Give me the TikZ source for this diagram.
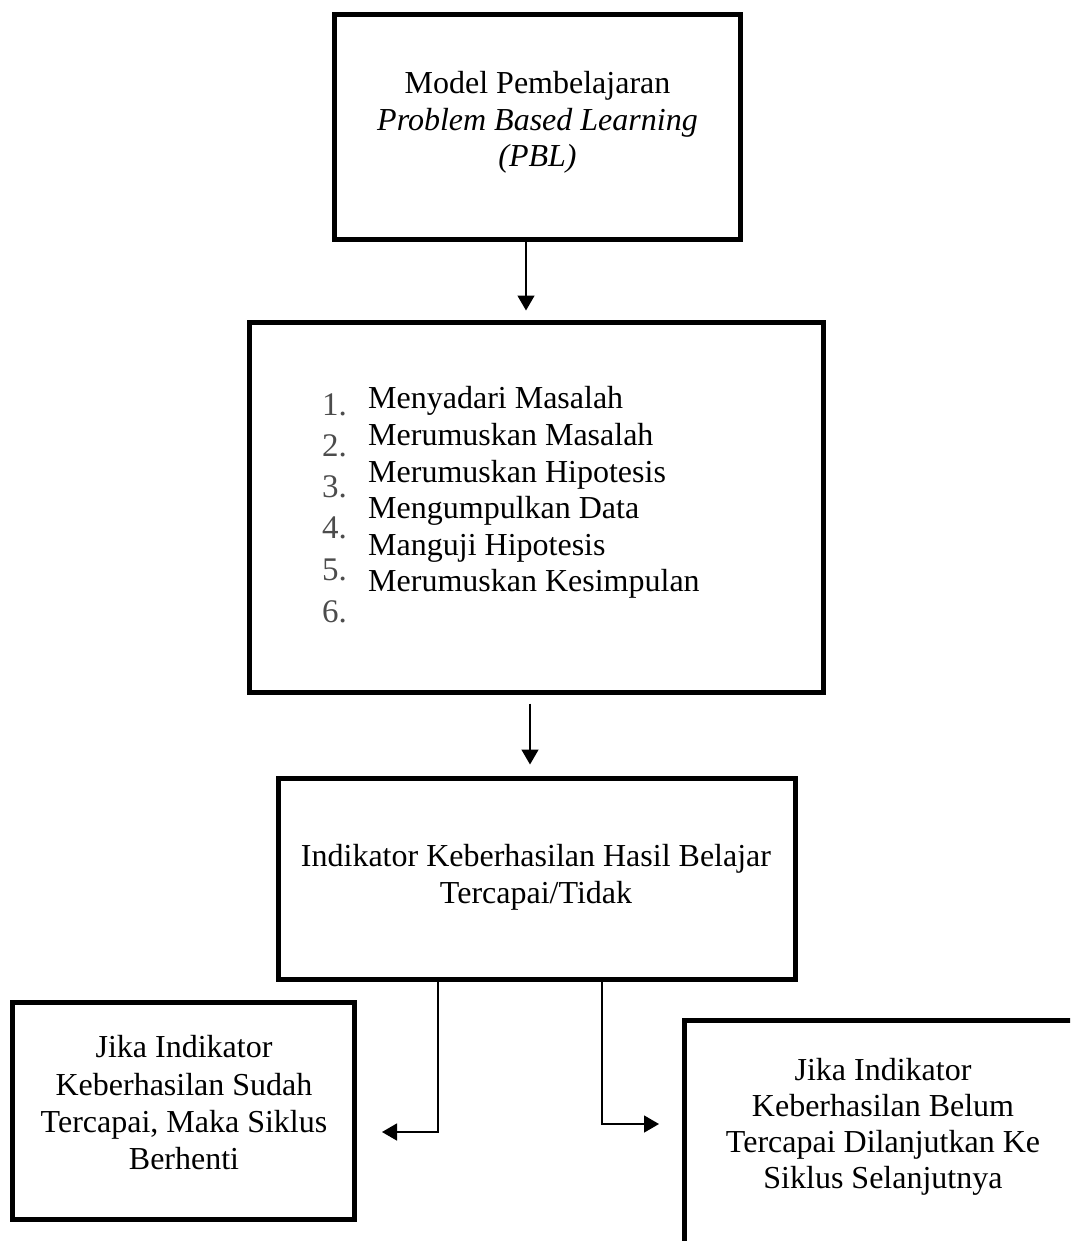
\documentclass[tikz,border=0pt]{standalone}
\usepackage{fontspec}
\setmainfont{Liberation Serif}
\usetikzlibrary{arrows.meta}
\tikzset{
  box/.style={draw=black, line width=5pt, rectangle, inner sep=0pt},
  txt/.style={anchor=base, inner sep=0pt, font=\fontsize{32}{36.5}\selectfont},
  ltxt/.style={anchor=base west, inner sep=0pt, font=\fontsize{32}{36.5}\selectfont},
  num/.style={anchor=base west, inner sep=0pt, text=black!70, font=\fontsize{33}{36}\selectfont},
  conn/.style={line width=1.5pt, -{Triangle[length=15pt,width=17pt]}},
}
\begin{document}
\begin{tikzpicture}[x=1pt,y=-1pt]
\useasboundingbox (0,0) rectangle (1070,1241);
\clip (0,0) rectangle (1070,1241);

% boxes
\node[box, minimum width=406pt, minimum height=225pt] (b1) at (537.5,127) {};
\node[box, minimum width=574pt, minimum height=370pt] (b2) at (536.5,507.5) {};
\node[box, minimum width=517pt, minimum height=201pt] (b3) at (537,879) {};
\node[box, minimum width=342pt, minimum height=217pt] (lb) at (183.5,1111) {};
\node[box, minimum width=415.5pt, minimum height=249.5pt] (rb) at (892.25,1145.25) {};

% box 1 text
\node[txt] (t11) at (537.5,94) {Model Pembelajaran};
\node[txt] (t12) at (537.5,130.5) {\itshape Problem Based Learning};
\node[txt] (t13) at (537.5,167) {\itshape (PBL)};

% box 2 list
\node[num] (n1) at (322,415) {1.};
\node[num] (n2) at (322,456) {2.};
\node[num] (n3) at (322,497) {3.};
\node[num] (n4) at (322,538) {4.};
\node[num] (n5) at (322,580) {5.};
\node[num] (n6) at (322,622) {6.};
\node[ltxt] (s1) at (368,408) {Menyadari Masalah};
\node[ltxt] (s2) at (368,445) {Merumuskan Masalah};
\node[ltxt] (s3) at (368,482) {Merumuskan Hipotesis};
\node[ltxt] (s4) at (368,518) {Mengumpulkan Data};
\node[ltxt] (s5) at (368,555) {Manguji Hipotesis};
\node[ltxt] (s6) at (368,591) {Merumuskan Kesimpulan};

% box 3 text
\node[txt] (t31) at (536,866) {Indikator Keberhasilan Hasil Belajar};
\node[txt] (t32) at (536,903.5) {Tercapai/Tidak};

% left box text
\node[txt] (l1) at (184,1057) {Jika Indikator};
\node[txt] (l2) at (184,1095) {Keberhasilan Sudah};
\node[txt] (l3) at (184,1132) {Tercapai, Maka Siklus};
\node[txt] (l4) at (184,1169) {Berhenti};

% right box text
\node[txt] (r1) at (883,1080) {Jika Indikator};
\node[txt] (r2) at (883,1116) {Keberhasilan Belum};
\node[txt] (r3) at (883,1152) {Tercapai Dilanjutkan Ke};
\node[txt] (r4) at (883,1188) {Siklus Selanjutnya};

% connectors
\draw[conn, shorten >=9.5pt] ([xshift=-11.5pt]b1.south) -- ([xshift=-11.5pt]b1.south |- b2.north);
\draw[conn, shorten <=8.5pt, shorten >=11.5pt] ([xshift=-6.5pt]b2.south) -- ([xshift=-6.5pt]b2.south |- b3.north);
\coordinate (lt) at (382,1132);
\coordinate (rt) at (659,1124);
\draw[conn] ([xshift=-99pt]b3.south) |- (lt);
\draw[conn] ([xshift=65pt]b3.south) |- (rt);
\end{tikzpicture}
\end{document}
